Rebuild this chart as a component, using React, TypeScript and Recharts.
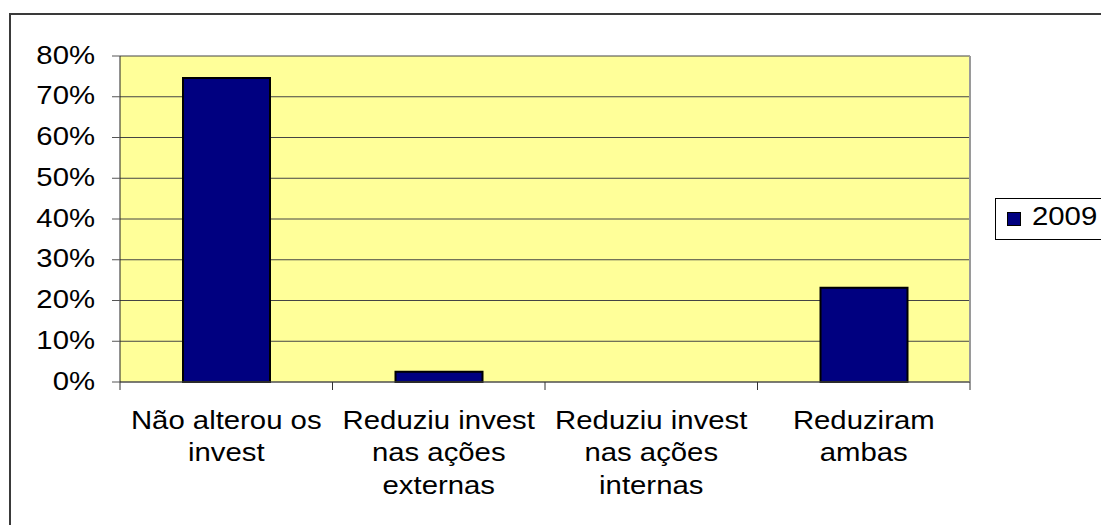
import React from 'react';
import { BarChart, Bar, XAxis, YAxis, CartesianGrid, Legend } from 'recharts';

const categories: string[][] = [
  ['Não alterou os', 'invest'],
  ['Reduziu invest', 'nas ações', 'externas'],
  ['Reduziu invest', 'nas ações', 'internas'],
  ['Reduziram', 'ambas'],
];
const values2009 = [0.746, 0.025, 0, 0.231];
const yTicks = [0, 0.1, 0.2, 0.3, 0.4, 0.5, 0.6, 0.7, 0.8];
const seriesName = '2009';

const data = categories.map((lines, i) => ({ name: lines.join(' '), v2009: values2009[i] }));

const W = 1101;
const H = 525;
const margin = { top: 56, right: 131, bottom: 0, left: 0 };
const plotW = W - 120 - margin.right;
const band = plotW / categories.length;

const FONT = 'Arial, "Liberation Sans", sans-serif';
const FS = 25.5;
const SX = 1.15;

const XTick = (props: any) => {
  const { x, y, payload, index } = props;
  const lines = categories[index] || [payload.value];
  return (
    <g>
      <line x1={x - band / 2} x2={x - band / 2} y1={y} y2={y + 8} stroke="#333" />
      {index === categories.length - 1 && (
        <line x1={x + band / 2} x2={x + band / 2} y1={y} y2={y + 8} stroke="#333" />
      )}
      <g transform={`translate(${x},${y}) scale(${SX},1)`}>
        {lines.map((l: string, i: number) => (
          <text key={i} x={0} y={47 + i * 32.3} textAnchor="middle" fontSize={FS} fontFamily={FONT} fill="#000">
            {l}
          </text>
        ))}
      </g>
    </g>
  );
};

const YTick = (props: any) => {
  const { x, y, payload } = props;
  return (
    <g transform={`translate(${x},${y}) scale(${SX},1)`}>
      <text x={0} y={7.5} textAnchor="end" fontSize={FS} fontFamily={FONT} fill="#000">
        {`${Math.round(payload.value * 100)}%`}
      </text>
    </g>
  );
};

const LegendBox = () => (
  <div style={{ position: 'relative', width: 140, height: 42, border: '1px solid #000', background: '#fff', boxSizing: 'border-box' }}>
    <span style={{ position: 'absolute', left: 11, top: 13, width: 12, height: 12, background: '#000080', border: '1px solid #000' }} />
    <span style={{ position: 'absolute', left: 36, top: 5, fontSize: FS, lineHeight: 1, fontFamily: FONT, color: '#000', transform: `scaleX(${SX})`, transformOrigin: 'left center', whiteSpace: 'nowrap' }}>
      {seriesName}
    </span>
  </div>
);

export default function App() {
  return (
    <div style={{ position: 'absolute', left: 0, top: 0, width: W, height: H, overflow: 'hidden', background: '#fff' }}>
      <div style={{ position: 'absolute', left: 9, top: 13, width: 1200, height: 700, border: '2px solid #3a3a3a' }} />
      <div style={{ position: 'absolute', left: 0, top: 0 }}>
        <BarChart width={W} height={H} data={data} margin={margin} barSize={87}>
          <CartesianGrid fill="#FFFF99" fillOpacity={1} vertical={false} stroke="#444" strokeOpacity={1} />
          <CartesianGrid horizontal={false} verticalCoordinatesGenerator={() => [W - margin.right]} stroke="#9a9a9a" strokeWidth={2} />
          <XAxis
            dataKey="name"
            height={143}
            interval={0}
            tickLine={false}
            tickSize={0}
            tickMargin={0}
            axisLine={{ stroke: '#555' }}
            tick={<XTick />}
          />
          <YAxis
            width={120}
            domain={[0, 0.8]}
            ticks={yTicks}
            interval={0}
            tickSize={8}
            tickMargin={17}
            axisLine={{ stroke: '#222' }}
            tickLine={{ stroke: '#555' }}
            tick={<YTick />}
          />
          <Legend
            layout="horizontal"
            verticalAlign="middle"
            align="center"
            content={<LegendBox />}
            wrapperStyle={{ position: 'absolute', left: 995, top: 198, width: 140, height: 42 }}
          />
          <Bar dataKey="v2009" name={seriesName} fill="#000080" stroke="#000" strokeWidth={2} isAnimationActive={false} />
        </BarChart>
      </div>
    </div>
  );
}
